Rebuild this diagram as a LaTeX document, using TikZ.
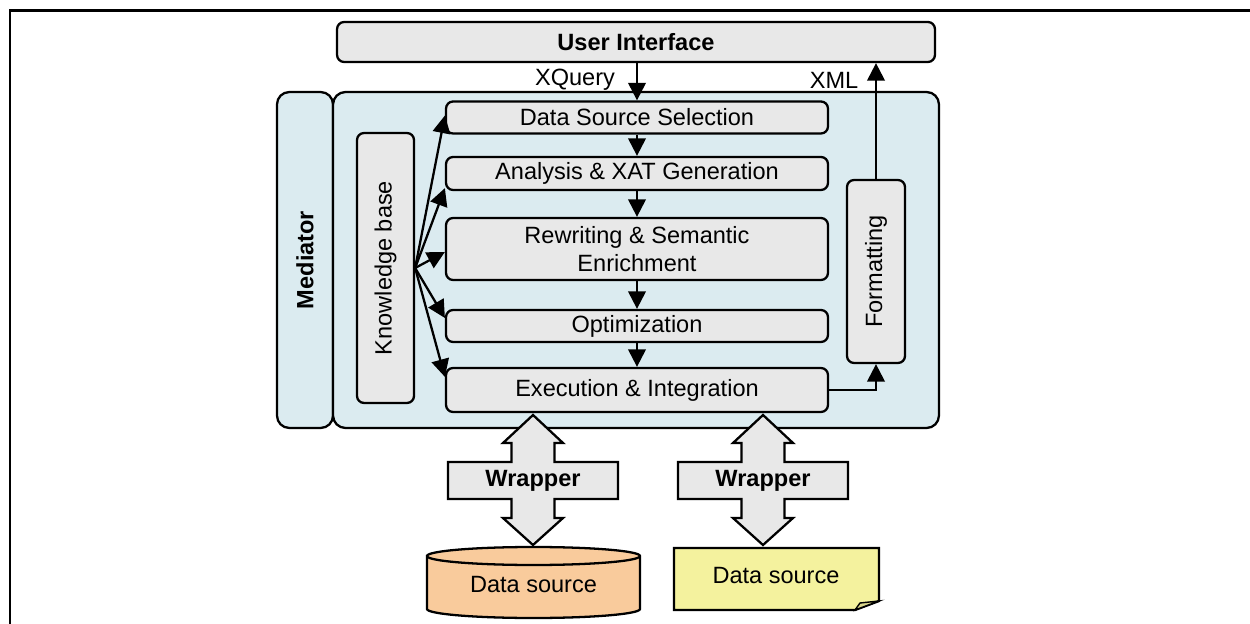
\documentclass[tikz,border=0pt]{standalone}
\usepackage{fontspec}
\setmainfont{Liberation Sans}
\usetikzlibrary{arrows.meta,calc}

\definecolor{boxgray}{HTML}{E8E8E8}
\definecolor{medblue}{HTML}{DBEBF0}
\definecolor{dbfill}{HTML}{F9CB9C}
\definecolor{notefill}{HTML}{F4F29E}
\definecolor{notefold}{HTML}{D8D58A}

\begin{document}
\begin{tikzpicture}[x=0.02cm, y=-0.02cm, line width=1.3pt, >={Triangle[length=10pt,width=10pt]}]
\tikzset{
  txt/.style={font=\fontsize{13.4}{16}\selectfont},
  box/.style={txt, draw, fill=boxgray, rounded corners=4pt, inner sep=0pt, align=center},
  medbox/.style={txt, draw, fill=medblue, rounded corners=7pt, inner sep=0pt},
  stage/.style={box, minimum width=7.64cm},
  wrapshape/.style={draw, fill=boxgray, line join=miter},
}
\useasboundingbox (0,0) rectangle (1250,624);
%\draw [lightgray] (0,0) grid[step=50] (1250,624);

% frame
\draw [line width=1.7pt] (10,630) -- (10,11) -- (1260,11);

\node [box, minimum width=11.96cm, minimum height=0.8cm] (ui) at (636,42) {\bfseries User Interface};

\node [medbox, minimum width=1.12cm, minimum height=6.72cm] (med) at (305,260) {\rotatebox{90}{\bfseries Mediator}};
\node [medbox, minimum width=12.12cm, minimum height=6.72cm] (core) at (636,260) {};

\node [box, minimum width=1.14cm, minimum height=5.4cm] (kb) at (385.5,268) {\rotatebox{90}{Knowledge base}};

\node [stage, minimum height=0.64cm] (dss) at (637,117.5) {Data Source Selection};
\node [stage, minimum height=0.66cm] (axg) at (637,173.5) {Analysis \& XAT Generation};
\node [stage, minimum height=1.24cm] (rse) at (637,249) {Rewriting \& Semantic\\Enrichment};
\node [stage, minimum height=0.64cm] (opt) at (637,326) {Optimization};
\node [stage, minimum height=0.88cm] (exe) at (637,390) {Execution \& Integration};

\node [box, minimum width=1.16cm, minimum height=3.66cm] (fmt) at (876,271.5) {\rotatebox{90}{Formatting}};

\draw [->] (dss.north |- ui.south) -- (dss.north);
\draw [->] (dss.south) -- (axg.north);
\draw [->] (axg.south) -- (rse.north);
\draw [->] (rse.south) -- (opt.north);
\draw [->] (opt.south) -- (exe.north);
\draw [->] (exe.east) -| (fmt.south);
\draw [->] (fmt.north) -- (fmt.north |- ui.south);

\node [txt] (xq) at (575,80) {XQuery};
\node [txt] (xml) at (834,80) {XML};

% knowledge base fan
\draw [->] (kb.east) -- ($(dss.west)+(0,-2)$);
\draw [->] (kb.east) -- ($(axg.south west)+(0,-3)$);
\draw [->] (kb.east) -- ($(rse.west)+(0,3)$);
\draw [->] (kb.east) -- ($(opt.west)+(0,-8)$);
\draw [->] (kb.east) -- ($(exe.north west)+(0,10)$);

% wrappers
\draw [wrapshape, shift={(533,0)}] (0,415) -- (30,443) -- (21.5,443) -- (21.5,462) -- (85,462) -- (85,499)
  -- (21.5,499) -- (21.5,518) -- (30,518) -- (0,545) -- (-30,518) -- (-21.5,518) -- (-21.5,499)
  -- (-85,499) -- (-85,462) -- (-21.5,462) -- (-21.5,443) -- (-30,443) -- cycle;
\draw [wrapshape, shift={(763,0)}] (0,415) -- (30,443) -- (21.5,443) -- (21.5,462) -- (85,462) -- (85,499)
  -- (21.5,499) -- (21.5,518) -- (30,518) -- (0,545) -- (-30,518) -- (-21.5,518) -- (-21.5,499)
  -- (-85,499) -- (-85,462) -- (-21.5,462) -- (-21.5,443) -- (-30,443) -- cycle;
\node [txt, font=\fontsize{13.4}{16}\selectfont\bfseries] (w1) at (533,480.5) {Wrapper};
\node [txt, font=\fontsize{13.4}{16}\selectfont\bfseries] (w2) at (763,480.5) {Wrapper};

% data sources
\draw [fill=dbfill] (427,556) -- (427,609) arc[start angle=180, end angle=360, x radius=2.13cm, y radius=0.18cm]
  -- (640,556) arc[start angle=0, end angle=180, x radius=2.13cm, y radius=0.18cm] -- cycle;
\draw (427,556) arc[start angle=180, end angle=360, x radius=2.13cm, y radius=0.18cm];
\node [txt] (ds1) at (533.5,585) {Data source};

\draw [fill=notefill] (674,548) -- (879,548) -- (879,601) -- (855,610) -- (674,610) -- cycle;
\draw [fill=notefold, line width=0.8pt] (855,610) -- (860,603) -- (879,601) -- cycle;
\node [txt] (ds2) at (776,576) {Data source};

\end{tikzpicture}
\end{document}
